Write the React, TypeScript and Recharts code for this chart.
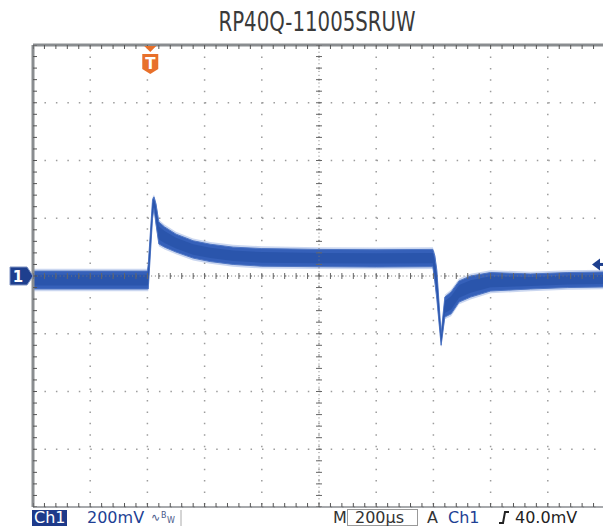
import React from "react";
import {
  ComposedChart,
  Area,
  Scatter,
  XAxis,
  YAxis,
  CartesianGrid,
  ReferenceLine,
  ReferenceDot,
} from "recharts";

// Scope capture: 200 µs/div horizontally, 200 mV/div vertically.
const TITLE = "RP40Q-11005SRUW";

// time from the left edge of the screen, µs
const timeUs = [
  0, 400, 403, 418, 423, 430, 440, 460, 500, 560, 620, 700, 800, 1000, 1200, 1398,
  1405, 1412, 1427, 1440, 1462, 1490, 1530, 1600, 1740, 1870, 2000,
];
// lower / upper edge of the noise band, mV (relative to the Ch1 marker)
const bandLowMv = [
  -45, -45, -45, 200, 235, 180, 111, 100, 83, 62, 50, 40, 34, 32, 31, 32,
  -20, -80, -240, -142, -131, -90, -73, -52, -45, -40, -38,
];
const bandHighMv = [
  17, 17, 40, 265, 274, 250, 187, 170, 145, 122, 110, 100, 95, 92, 91, 92,
  70, 20, -200, -73, -55, -17, 0, 12, 7, 12, 14,
];

const majorTimeTicks = [0, 200, 400, 600, 800, 1000, 1200, 1400, 1600, 1800, 2000];
const majorVoltTicks = [-800, -600, -400, -200, 0, 200, 400, 600, 800];
const minorTimeTicks = Array.from({ length: 51 }, (_, i) => i * 40);
const minorVoltTicks = Array.from({ length: 41 }, (_, i) => -800 + i * 40);

const triggerTimeUs = 410;
const triggerLevelMv = 40;
const ch1OffsetMv = 0;

const W = 605;
const H = 526;
const frame = "#8a8d90";
const dotGrey = "#9c9c9c";
const traceBlue = "#1e3f8e";

const data = timeUs.map((t, i) => {
  const lo = bandLowMv[i];
  const hi = bandHighMv[i];
  const q = (hi - lo) * 0.2;
  return { t, halo: [lo - 8, hi + 8], band: [lo, hi], core: [lo + q, hi - q] };
});
const centerXTicks = minorTimeTicks.map((t) => ({ t, v: 0 }));
const centerYTicks = minorVoltTicks.map((v) => ({ t: 1000, v }));
const topTicks = minorTimeTicks.map((t) => ({ t, v: 800 }));
const bottomTicks = minorTimeTicks.map((t) => ({ t, v: -800 }));
const leftTicks = minorVoltTicks.map((v) => ({ t: 0, v }));

const Ch1Marker = (p: any) => (
  <g>
    <polygon
      points={`${p.cx - 23},${p.cy - 9} ${p.cx - 6},${p.cy - 9} ${p.cx},${p.cy} ${p.cx - 6},${p.cy + 9} ${p.cx - 23},${p.cy + 9}`}
      fill={traceBlue}
      stroke="#7e93c2"
      strokeWidth={1}
    />
    <text x={p.cx - 15} y={p.cy + 6} fill="#fff" fontSize={15} fontWeight="bold" textAnchor="middle" fontFamily="DejaVu Sans">
      1
    </text>
  </g>
);

const TriggerMarker = (p: any) => (
  <g>
    <polygon points={`${p.cx - 6},${p.cy + 1} ${p.cx + 6},${p.cy + 1} ${p.cx},${p.cy + 7}`} fill="#e8702a" />
    <path
      d={`M${p.cx - 8},${p.cy + 9} L${p.cx + 8},${p.cy + 9} L${p.cx + 8},${p.cy + 24} L${p.cx},${p.cy + 29} L${p.cx - 8},${p.cy + 24} Z`}
      fill="#e8702a"
    />
    <text x={p.cx} y={p.cy + 24} fill="#fff" fontSize={15} fontWeight="bold" textAnchor="middle" fontFamily="DejaVu Sans">
      T
    </text>
  </g>
);

const LevelMarker = (p: any) => (
  <g>
    <polygon points={`${p.cx - 13},${p.cy} ${p.cx - 5},${p.cy - 6} ${p.cx - 5},${p.cy + 6}`} fill={traceBlue} />
    <rect x={p.cx - 6} y={p.cy - 1.5} width={6} height={3} fill={traceBlue} />
  </g>
);

const VTick = (p: any) => <line x1={p.cx} x2={p.cx} y1={p.cy - 3} y2={p.cy + 3} stroke="#666" strokeWidth={1} />;
const HTick = (p: any) => <line x1={p.cx - 3} x2={p.cx + 3} y1={p.cy} y2={p.cy} stroke="#666" strokeWidth={1} />;
const DownTick = (p: any) => <line x1={p.cx} x2={p.cx} y1={p.cy} y2={p.cy + 4} stroke="#555" strokeWidth={1} />;
const UpTick = (p: any) => <line x1={p.cx} x2={p.cx} y1={p.cy - 4} y2={p.cy} stroke="#555" strokeWidth={1} />;
const RightTick = (p: any) => <line x1={p.cx} x2={p.cx + 4} y1={p.cy} y2={p.cy} stroke="#555" strokeWidth={1} />;

export default function App() {
  return (
    <div style={{ position: "absolute", left: 0, top: 0, width: 603, height: H, overflow: "hidden", background: "#fff" }}>
      <ComposedChart width={W} height={H} data={data} margin={{ top: 45, right: 0, left: 33, bottom: 19 }}>
        <XAxis xAxisId="x" dataKey="t" type="number" domain={[0, 2000]} ticks={majorTimeTicks} hide allowDataOverflow />
        <YAxis yAxisId="y" type="number" domain={[-800, 800]} ticks={majorVoltTicks} hide allowDataOverflow />
        <CartesianGrid xAxisId="x" yAxisId="y" stroke={dotGrey} strokeWidth={1.5} strokeDasharray="1.5 9.95" />
        <ReferenceLine xAxisId="x" yAxisId="y" y={0} stroke="#777" strokeDasharray="1 2.81" />
        <ReferenceLine xAxisId="x" yAxisId="y" x={1000} stroke="#777" strokeDasharray="1 2.85" />
        <Scatter xAxisId="x" yAxisId="y" data={centerXTicks} dataKey="v" shape={VTick} isAnimationActive={false} />
        <Scatter xAxisId="x" yAxisId="y" data={centerYTicks} dataKey="v" shape={HTick} isAnimationActive={false} />
        <ReferenceLine xAxisId="x" yAxisId="y" y={800} stroke={frame} strokeWidth={3} />
        <ReferenceLine xAxisId="x" yAxisId="y" y={-800} stroke={frame} strokeWidth={1.5} />
        <ReferenceLine xAxisId="x" yAxisId="y" x={0} stroke={frame} strokeWidth={3} />
        <Scatter xAxisId="x" yAxisId="y" data={topTicks} dataKey="v" shape={DownTick} isAnimationActive={false} />
        <Scatter xAxisId="x" yAxisId="y" data={bottomTicks} dataKey="v" shape={UpTick} isAnimationActive={false} />
        <Scatter xAxisId="x" yAxisId="y" data={leftTicks} dataKey="v" shape={RightTick} isAnimationActive={false} />
        <Area xAxisId="x" yAxisId="y" type="linear" dataKey="halo" stroke="none" fill="#a9bce6" fillOpacity={0.6} isAnimationActive={false} />
        <Area xAxisId="x" yAxisId="y" type="linear" dataKey="band" stroke="#4f76c4" strokeWidth={1} fill="#3560b9" fillOpacity={1} isAnimationActive={false} />
        <Area xAxisId="x" yAxisId="y" type="linear" dataKey="core" stroke="none" fill="#2a55ac" fillOpacity={1} isAnimationActive={false} />
        <ReferenceDot xAxisId="x" yAxisId="y" x={0} y={ch1OffsetMv} r={1} ifOverflow="visible" shape={Ch1Marker} />
        <ReferenceDot xAxisId="x" yAxisId="y" x={triggerTimeUs} y={800} r={1} ifOverflow="visible" shape={TriggerMarker} />
        <ReferenceDot xAxisId="x" yAxisId="y" x={2000} y={triggerLevelMv} r={1} ifOverflow="visible" shape={LevelMarker} />
      </ComposedChart>
      <svg width={603} height={H} style={{ position: "absolute", left: 0, top: 0, pointerEvents: "none" }}>
        <text
          x={317}
          y={31}
          textAnchor="middle"
          fontSize={26}
          fill="#3a3a3a"
          fontFamily="'Liberation Sans Narrow', 'DejaVu Sans Condensed', sans-serif"
          textLength={197}
          lengthAdjust="spacingAndGlyphs"
        >
          {TITLE}
        </text>
        <g fontFamily="'DejaVu Sans', sans-serif" fontSize={16}>
          <rect x={32} y={510} width={35} height={16} fill="#1e3a8a" />
          <text x={34} y={523} fill="#fff">Ch1</text>
          <text x={87} y={523} fill="#1e3f94">200mV</text>
          <text x={151} y={521} fill="#4a5a8a" fontSize={11}>∿</text>
          <text x={161} y={518} fill="#4a5a8a" fontSize={8}>B</text>
          <text x={167} y={523} fill="#4a5a8a" fontSize={8}>W</text>
          <line x1={181} x2={181} y1={510} y2={526} stroke="#aaa" />
          <text x={333} y={523} fill="#333">M</text>
          <rect x={347.5} y={509.5} width={70} height={16} fill="none" stroke="#999" />
          <text x={355} y={523} fill="#333">200µs</text>
          <text x={427} y={523} fill="#333">A</text>
          <text x={448} y={523} fill="#1e3f94">Ch1</text>
          <path d="M499,523 L503,523 L505,512 L509,512" fill="none" stroke="#222" strokeWidth={2} />
          <text x={515} y={523} fill="#222">40.0mV</text>
        </g>
      </svg>
    </div>
  );
}
